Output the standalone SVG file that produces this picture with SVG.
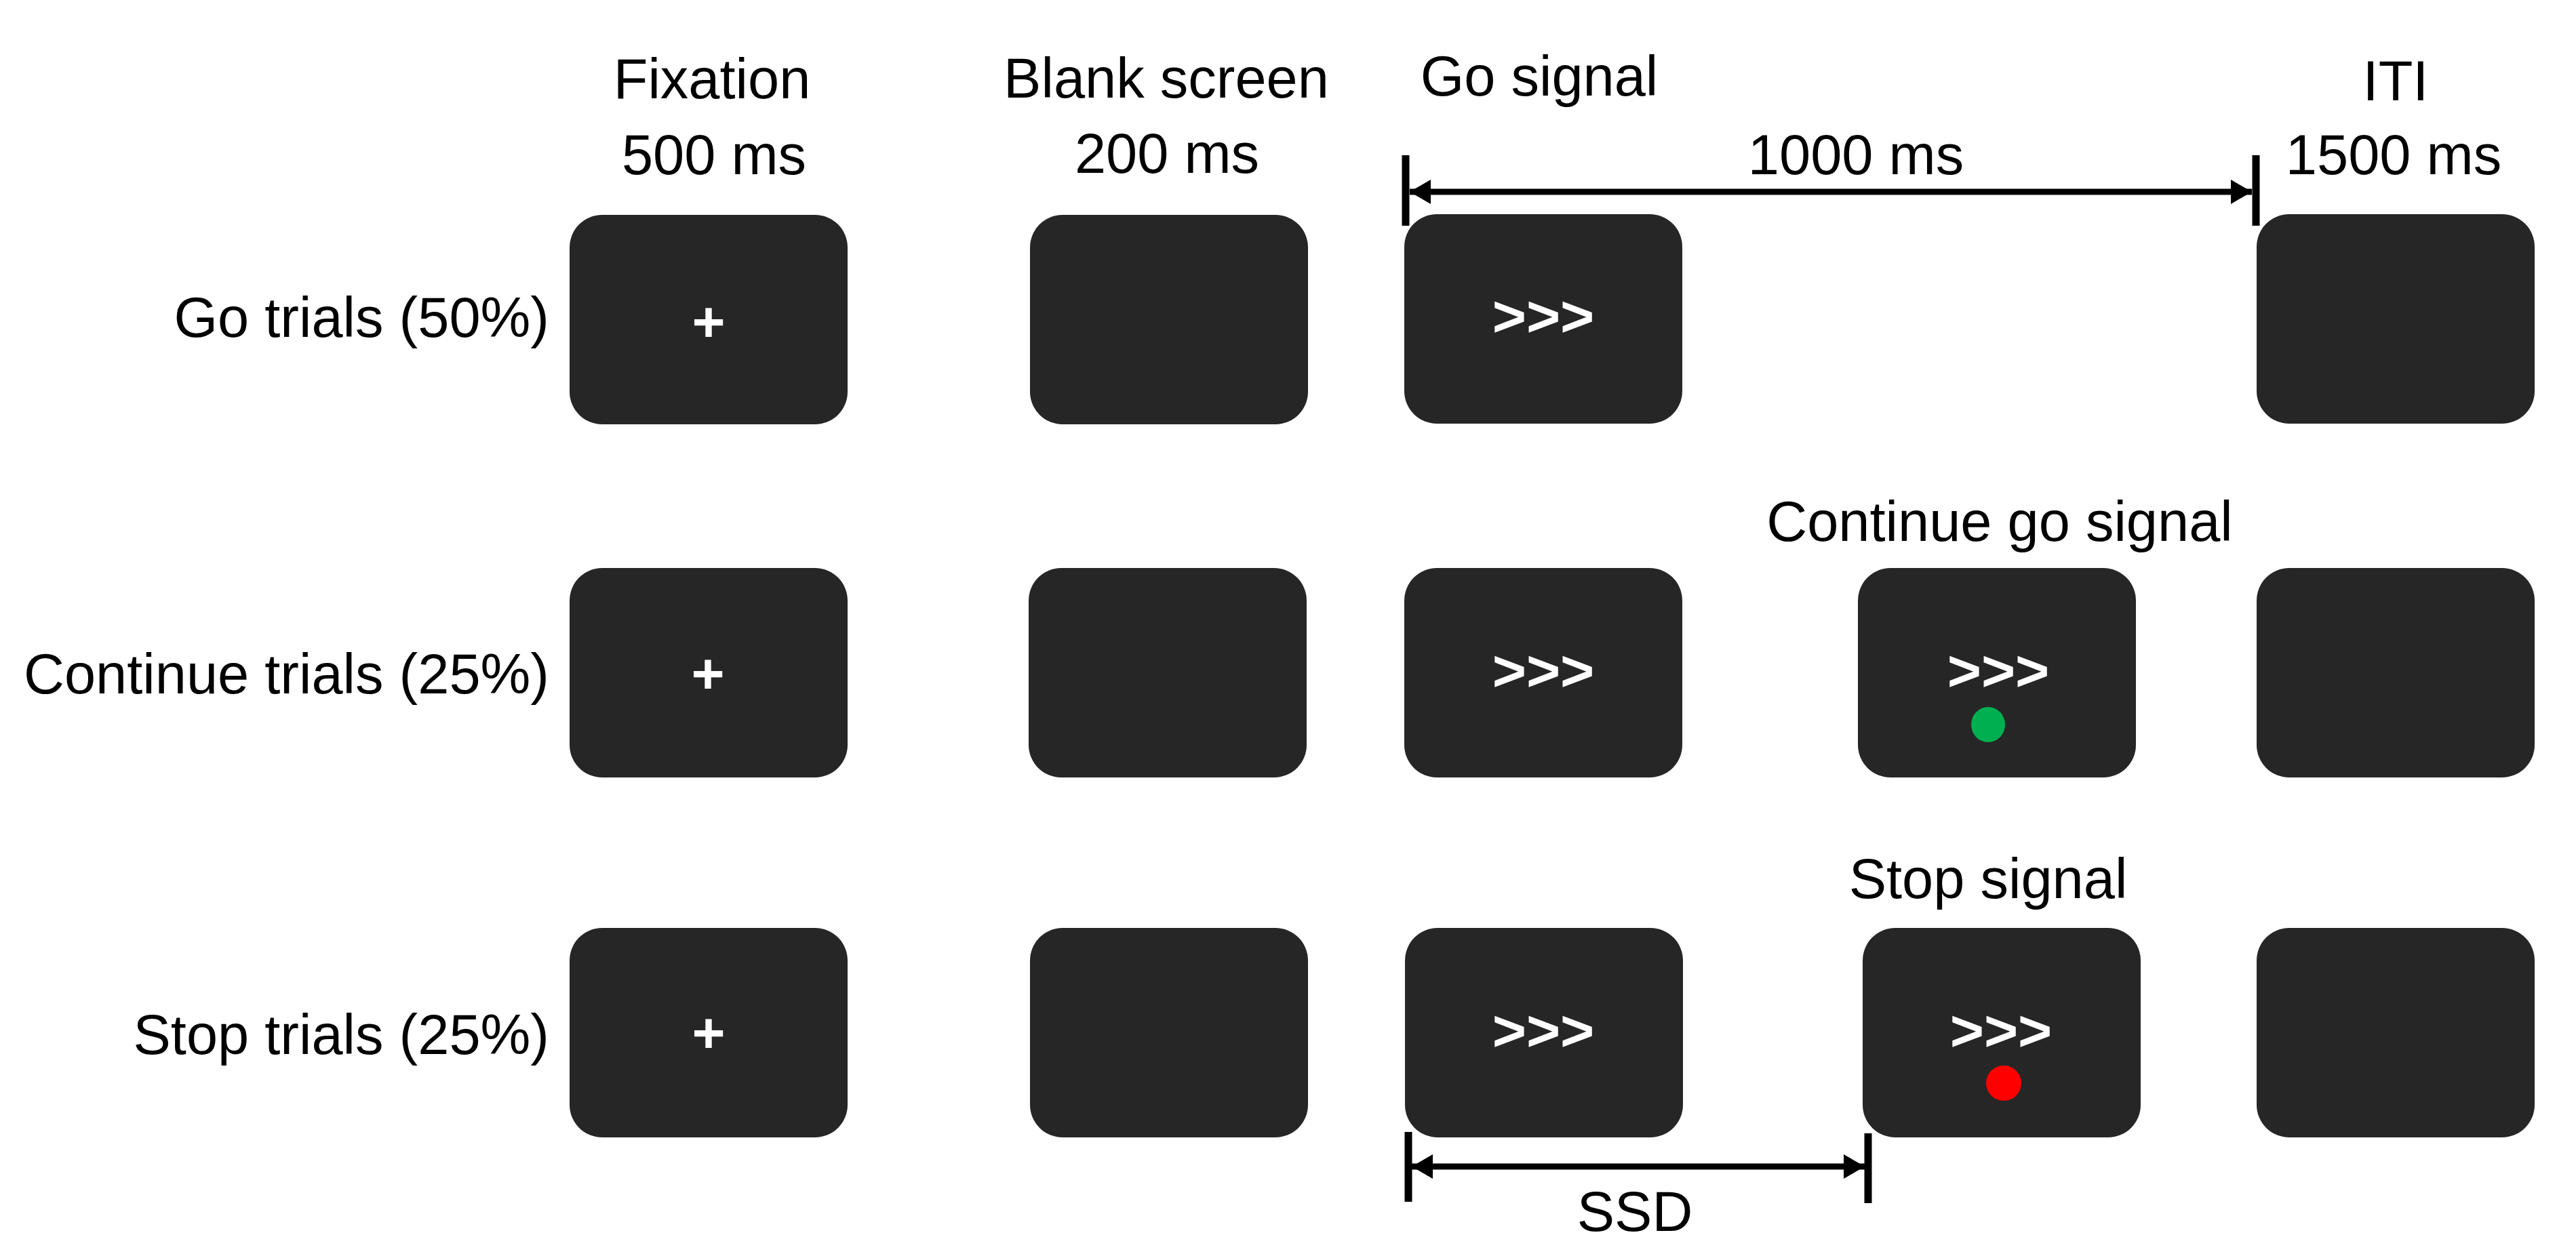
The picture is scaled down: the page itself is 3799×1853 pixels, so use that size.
<svg xmlns="http://www.w3.org/2000/svg" width="3799" height="1853" viewBox="0 0 3799 1853">
<style>
.lbl{font-family:"Liberation Sans",Arial,sans-serif;font-size:83px;fill:#000}
.mid{text-anchor:middle}
.end{text-anchor:end}
.scr{fill:#262626}
.sym{font-family:"Liberation Sans",Arial,sans-serif;font-weight:bold;fill:#fff;text-anchor:middle}
.plus{font-size:84px}
.arr{font-size:86px}
.dim{stroke:#000;stroke-width:9;fill:none}
.tick{stroke:#000;stroke-width:11;fill:none}
</style>
<defs>
<marker id="ah" markerUnits="userSpaceOnUse" markerWidth="32" markerHeight="36" refX="31" refY="18" orient="auto-start-reverse">
<path d="M0,0 L31,18 L0,36 z" fill="#000"/>
</marker>
<rect id="screen" width="410" height="309" rx="48" ry="48" class="scr"/>
</defs>
<rect width="3799" height="1853" fill="#fff"/>

<g id="header-labels">
<text class="lbl mid" x="1050" y="145">Fixation</text>
<text class="lbl mid" x="1053" y="257">500 ms</text>
<text class="lbl mid" x="1720" y="144">Blank screen</text>
<text class="lbl mid" x="1721" y="255">200 ms</text>
<text class="lbl mid" x="2270" y="141">Go signal</text>
<text class="lbl mid" x="2737" y="257">1000 ms</text>
<text class="lbl mid" x="3533" y="148">ITI</text>
<text class="lbl mid" x="3530" y="257">1500 ms</text>
</g>

<g id="row-labels">
<text class="lbl end" x="810" y="497">Go trials (50%)</text>
<text class="lbl end" x="810" y="1023">Continue trials (25%)</text>
<text class="lbl end" x="810" y="1555">Stop trials (25%)</text>
</g>

<g id="go-row">
<g id="go-fixation"><use href="#screen" x="840" y="317"/><text class="sym plus" x="1045" y="504">+</text></g>
<g id="go-blank"><use href="#screen" x="1519" y="317"/></g>
<g id="go-go"><use href="#screen" x="2071" y="316"/><text class="sym arr" x="2276" y="496">&gt;&gt;&gt;</text></g>
<g id="go-iti"><use href="#screen" x="3328" y="316"/></g>
</g>

<g id="continue-row">
<g id="cont-fixation"><use href="#screen" x="840" y="838"/><text class="sym plus" x="1044" y="1023">+</text></g>
<g id="cont-blank"><use href="#screen" x="1517" y="838"/></g>
<g id="cont-go"><use href="#screen" x="2071" y="838"/><text class="sym arr" x="2276" y="1019">&gt;&gt;&gt;</text></g>
<g id="cont-signal">
<text class="lbl mid" x="2949" y="798">Continue go signal</text>
<use href="#screen" x="2740" y="838"/>
<text class="sym arr" x="2947" y="1019">&gt;&gt;&gt;</text>
<ellipse cx="2932" cy="1069" rx="25" ry="26" fill="#00B050"/>
</g>
<g id="cont-iti"><use href="#screen" x="3328" y="838"/></g>
</g>

<g id="stop-row">
<g id="stop-fixation"><use href="#screen" x="840" y="1369"/><text class="sym plus" x="1045" y="1553">+</text></g>
<g id="stop-blank"><use href="#screen" x="1519" y="1369"/></g>
<g id="stop-go"><use href="#screen" x="2072" y="1369"/><text class="sym arr" x="2276" y="1550">&gt;&gt;&gt;</text></g>
<g id="stop-signal">
<text class="lbl mid" x="2932" y="1325">Stop signal</text>
<use href="#screen" x="2747" y="1369"/>
<text class="sym arr" x="2951" y="1550">&gt;&gt;&gt;</text>
<circle cx="2955" cy="1598" r="26" fill="#FF0000"/>
</g>
<g id="stop-iti"><use href="#screen" x="3328" y="1369"/></g>
</g>

<g id="connectors">
<line class="tick" x1="2073" y1="229" x2="2073" y2="333"/>
<line class="tick" x1="3327" y1="229" x2="3327" y2="333"/>
<line class="dim" x1="2079" y1="283" x2="3321" y2="283" marker-start="url(#ah)" marker-end="url(#ah)"/>
<line class="tick" x1="2077" y1="1670" x2="2077" y2="1773"/>
<line class="tick" x1="2755" y1="1672" x2="2755" y2="1775"/>
<line class="dim" x1="2082" y1="1721" x2="2750" y2="1721" marker-start="url(#ah)" marker-end="url(#ah)"/>
<text class="lbl mid" x="2411" y="1816">SSD</text>
</g>
</svg>
